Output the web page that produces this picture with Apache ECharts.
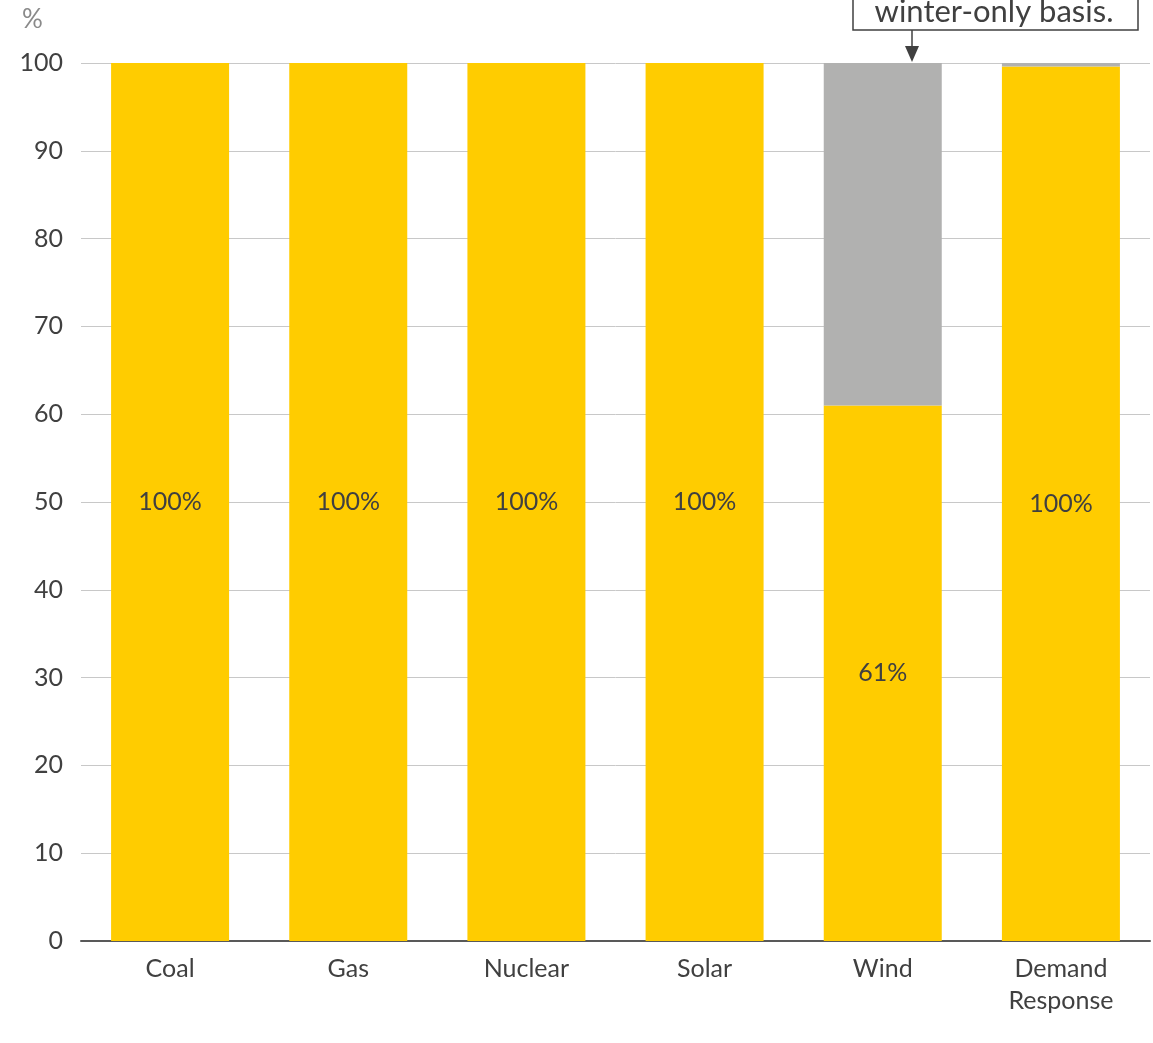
<!DOCTYPE html>
<html>
<head>
<meta charset="utf-8">
<script src="https://cdn.jsdelivr.net/npm/echarts@6/dist/echarts.min.js"></script>
<style>
  html, body { margin: 0; padding: 0; background: #fff; }
  #chart { width: 1153px; height: 1043px; }
</style>
</head>
<body>
<div id="chart"></div>
<script>
// Share of capacity counted (%), by resource type
const categories = ['Coal', 'Gas', 'Nuclear', 'Solar', 'Wind', 'Demand\nResponse'];
const countedShare = [100, 100, 100, 100, 61, 99.6];
const remainderShare = [0, 0, 0, 0, 39, 0.4];
const yTicks = [0, 10, 20, 30, 40, 50, 60, 70, 80, 90, 100];

const FONT = 'Lato, "Noto Sans", sans-serif';
const TEXT = '#404040';

const chart = echarts.init(document.getElementById('chart'), null, { renderer: 'canvas' });

chart.setOption({
  animation: false,
  backgroundColor: '#ffffff',
  grid: { left: 81, right: 3, top: 63, bottom: 102, containLabel: false },
  xAxis: {
    type: 'category',
    data: categories,
    axisTick: { show: false },
    axisLine: { show: true, lineStyle: { color: '#595959', width: 2 } },
    axisLabel: {
      color: TEXT, fontFamily: FONT, fontSize: 25, margin: 12, lineHeight: 32
    }
  },
  yAxis: {
    type: 'value',
    min: yTicks[0],
    max: yTicks[yTicks.length - 1],
    interval: 10,
    axisLine: { show: false },
    axisTick: { show: false },
    splitLine: { lineStyle: { color: '#c8c8c8', width: 1 } },
    axisLabel: { color: TEXT, fontFamily: FONT, fontSize: 25, margin: 18 }
  },
  series: [
    {
      name: 'Counted',
      type: 'bar',
      stack: 'share',
      barWidth: 118,
      data: countedShare,
      itemStyle: { color: '#FFCC00' },
      label: {
        show: true,
        position: 'inside',
        color: TEXT,
        fontFamily: FONT,
        fontSize: 25,
        formatter: p => Math.round(p.value) + '%'
      }
    },
    {
      name: 'Remainder',
      type: 'bar',
      stack: 'share',
      barWidth: 118,
      data: remainderShare,
      itemStyle: { color: '#B1B1B0' }
    }
  ],
  graphic: [
    {
      type: 'text',
      x: 22, y: 7,
      style: { text: '%', fill: '#8a8a8a', fontFamily: FONT, fontSize: 26 }
    },
    {
      type: 'group',
      children: [
        {
          type: 'rect',
          shape: { x: 853, y: -60, width: 285, height: 90 },
          style: { fill: '#ffffff', stroke: TEXT, lineWidth: 1.5 }
        },
        {
          type: 'text',
          x: 994, y: 12,
          style: {
            text: 'winter-only basis.',
            fill: TEXT,
            fontFamily: FONT,
            fontSize: 31,
            align: 'center',
            verticalAlign: 'middle'
          }
        },
        {
          type: 'line',
          shape: { x1: 912, y1: 30, x2: 912, y2: 48 },
          style: { stroke: TEXT, lineWidth: 1.5 }
        },
        {
          type: 'polygon',
          shape: { points: [[905, 46], [919, 46], [912, 62]] },
          style: { fill: TEXT }
        }
      ]
    }
  ]
});
</script>
</body>
</html>
